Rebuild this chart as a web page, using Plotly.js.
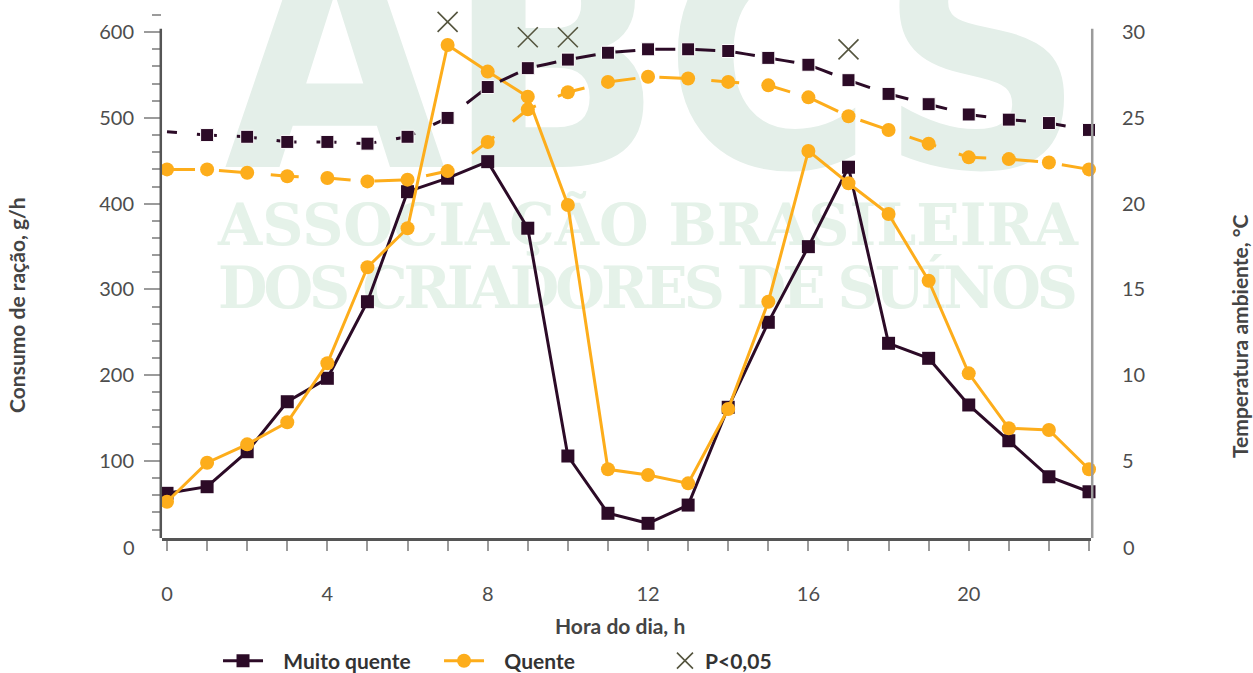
<!DOCTYPE html>
<html><head><meta charset="utf-8">
<script src="https://cdn.plot.ly/plotly-3.0.1.min.js"></script>
<style>
html,body{margin:0;padding:0;background:#fff;}
#wrap{position:relative;width:1253px;height:673px;overflow:hidden;}
#wm{position:absolute;left:0;top:0;}
#chart{position:absolute;left:0;top:0;width:1253px;height:673px;}
</style></head><body>
<div id="wrap">
<svg id="wm" width="1253" height="673">
 <text transform="translate(224,167) scale(1,1.08)" x="0" y="0" font-family="DejaVu Sans" font-weight="bold" font-size="288" fill="#e4efe9" textLength="861" lengthAdjust="spacingAndGlyphs">ABCS</text>
 <text x="218" y="245" font-family="DejaVu Serif" font-weight="bold" font-size="57" fill="#e5f2e9" textLength="860" lengthAdjust="spacing">ASSOCIAÇÃO BRASILEIRA</text>
 <text x="218" y="308" font-family="DejaVu Serif" font-weight="bold" font-size="57" fill="#e5f2e9" textLength="860" lengthAdjust="spacing">DOS CRIADORES DE SUÍNOS</text>
</svg>
<div id="chart"></div></div>
<script>
const hours = [0,1,2,3,4,5,6,7,8,9,10,11,12,13,14,15,16,17,18,19,20,21,22,23];
const consumoMuitoQuente = [62.3,70.0,110.8,169.1,196.4,285.7,414.0,429.7,449.0,371.4,105.8,39.0,27.3,48.6,162.6,261.7,349.9,442.5,237.2,219.7,165.3,123.6,81.6,64.1];
const consumoQuente = [52.5,98.0,119.4,145.1,213.9,325.9,371.4,585.1,554.0,524.8,398.5,90.3,83.6,73.9,160.6,285.7,461.5,423.8,388.0,310.2,202.2,138.1,136.1,90.3];
const tempMuitoQuente = [24.2,24.0,23.9,23.6,23.6,23.5,23.9,25.0,26.8,27.9,28.4,28.8,29.0,29.0,28.9,28.5,28.1,27.2,26.4,25.8,25.2,24.9,24.7,24.3];
const tempQuente = [22.0,22.0,21.8,21.6,21.5,21.3,21.4,21.9,23.6,25.5,26.5,27.1,27.4,27.3,27.1,26.9,26.2,25.1,24.3,23.5,22.7,22.6,22.4,22.0];
const sigHours = [7,9,10,17];
const sigLevel = [612,594,594,580];
const seriesNames = ['Muito quente','Quente','P<0,05'];
const axisTitles = {x:'Hora do dia, h', y:'Consumo de ração, g/h', y2:'Temperatura ambiente, °C'};

const DARK = '#2c0b27', ORANGE = '#fdad1b', SIG = '#55553f';
const NB = '\u00a0';
const Y_MIN = 10.2, Y_TOP = 603.9, Y_MAX = 620;

const traces = [
  {x:hours, y:consumoMuitoQuente, type:'scatter', mode:'lines+markers', name:NB.repeat(3)+seriesNames[0],
   legend:'legend', line:{color:DARK, width:3}, marker:{symbol:'square', size:13, color:DARK, opacity:1}, cliponaxis:false},
  {x:hours, y:tempMuitoQuente, yaxis:'y2', type:'scatter', mode:'lines+markers', showlegend:false,
   line:{color:DARK, width:3, dash:'10px,20px,10px,0px'}, marker:{symbol:'square', size:hours.map(h=>h===0?0:13), color:DARK, opacity:1}, cliponaxis:false},
  {x:hours, y:tempQuente, yaxis:'y2', type:'scatter', mode:'lines+markers', showlegend:false,
   line:{color:ORANGE, width:3, dash:'28px,24px'}, marker:{symbol:'circle', size:14, color:ORANGE, opacity:1}, cliponaxis:false},
  {x:hours, y:consumoQuente, type:'scatter', mode:'lines+markers', name:NB.repeat(3)+seriesNames[1],
   legend:'legend2', line:{color:ORANGE, width:3}, marker:{symbol:'circle', size:14, color:ORANGE, opacity:1}, cliponaxis:false},
  {x:sigHours, y:sigLevel, type:'scatter', mode:'markers', name:seriesNames[2], legend:'legend3',
   marker:{symbol:'x-thin-open', size:20, color:SIG, opacity:1, line:{color:SIG, width:1.6}}, cliponaxis:false}
];

const tickFont = {family:'Lato', size:20, color:'#4d4d4d'};
const titleFont = {family:'Lato', size:21, color:'#444', weight:'bold'};
const legFont = {family:'Lato', size:21, color:'#333', weight:'bold'};
const PH = (Y_MAX - Y_MIN) * 0.8574;          // plot height in px
const py = p => (538 - p) / PH;               // pixel row -> paper y
const legBase = {orientation:'h', yanchor:'middle', xanchor:'left', y:py(661), bgcolor:'rgba(0,0,0,0)', borderwidth:0, font:legFont};

const layout = {
  width:1253, height:673,
  margin:{l:162, r:162, t:538-PH, b:135, pad:0, autoexpand:false},
  paper_bgcolor:'rgba(0,0,0,0)', plot_bgcolor:'rgba(0,0,0,0)',
  font:tickFont,
  showlegend:true,
  legend:Object.assign({}, legBase, {x:0.0603, itemwidth:40}),
  legend2:Object.assign({}, legBase, {x:0.2982, itemwidth:40}),
  legend3:Object.assign({}, legBase, {x:0.5414, itemwidth:30}),
  xaxis:{range:[-0.125,23.05], tickmode:'linear', tick0:0, dtick:4, ticks:'outside', ticklen:10, tickwidth:2,
    tickcolor:'#9b9b9b', showline:true, linecolor:'#555', linewidth:2.5, showgrid:false, zeroline:false,
    ticklabelstandoff:26, tickfont:tickFont,
    minor:{tick0:0, dtick:1, ticks:'outside', ticklen:10, tickwidth:2, tickcolor:'#9b9b9b', showgrid:false}},
  yaxis:{range:[Y_MIN,Y_MAX], tickmode:'linear', tick0:0, dtick:100, ticks:'outside', ticklen:17, tickwidth:2,
    tickcolor:'#9b9b9b', showline:false, showgrid:false, zeroline:false,
    ticklabelstandoff:6, tickfont:tickFont,
    minor:{tick0:0, dtick:20, ticks:'outside', ticklen:9, tickwidth:2, tickcolor:'#9b9b9b', showgrid:false}},
  yaxis2:{overlaying:'y', side:'right', range:[Y_MIN/20,Y_MAX/20], tickmode:'linear', tick0:0, dtick:5, ticks:'',
    showline:false, showgrid:false, zeroline:false,
    ticklabelstandoff:30, tickfont:tickFont},
  shapes:[
    {type:'line', xref:'paper', yref:'y', x0:-0.0013, x1:-0.0013, y0:Y_MIN, y1:Y_TOP, line:{color:'#555', width:2.5}},
    {type:'line', xref:'paper', yref:'y', x0:1.0013, x1:1.0013, y0:Y_MIN, y1:Y_TOP, line:{color:'#9b9b9b', width:2.5}}
  ],
  annotations:[
    {xref:'paper', yref:'paper', x:0, y:(0-Y_MIN)/(Y_MAX-Y_MIN), xanchor:'right', yanchor:'middle', xshift:-25, text:'0', showarrow:false, font:tickFont},
    {xref:'paper', yref:'paper', x:1, y:(0-Y_MIN)/(Y_MAX-Y_MIN), xanchor:'left', yanchor:'middle', xshift:30, text:'0', showarrow:false, font:tickFont},
    {xref:'paper', yref:'paper', x:-0.1561, y:py(305), xanchor:'center', yanchor:'middle', textangle:-90, text:axisTitles.y, showarrow:false, font:titleFont},
    {xref:'paper', yref:'paper', x:1.1604, y:py(337), xanchor:'center', yanchor:'middle', textangle:-90, text:axisTitles.y2, showarrow:false, font:titleFont},
    {xref:'paper', yref:'paper', x:0.493, y:py(625), xanchor:'center', yanchor:'middle', text:axisTitles.x, showarrow:false, font:titleFont}
  ]
};

Plotly.newPlot('chart', traces, layout, {displayModeBar:false, staticPlot:true});
</script>
</body></html>
